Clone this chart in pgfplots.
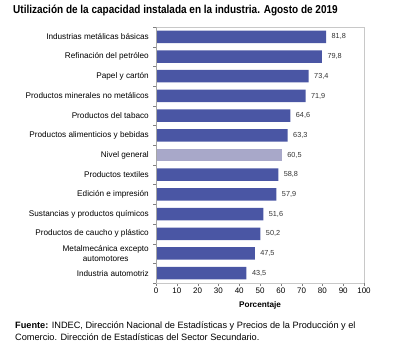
\documentclass[border=0pt]{standalone}
\usepackage{pgfplots}
\pgfplotsset{compat=1.18}
\usepackage{fontspec}
\setmainfont{Liberation Sans}
\newfontfamily\titlefont[FakeStretch=0.87]{Liberation Sans}
\definecolor{barblue}{HTML}{4A56A4}
\definecolor{barlight}{HTML}{A8A8C9}
\definecolor{framegray}{HTML}{C8C8C8}
\begin{document}
\begin{tikzpicture}
\path[use as bounding box] (0,0) rectangle (395pt,353pt);
\node[anchor=west,font=\titlefont\bfseries\fontsize{11.5}{13}\selectfont,inner sep=0pt] at (13pt,342pt) {Utilización de la capacidad instalada en la industria. Agosto de 2019};
\begin{axis}[
  at={(156pt,70pt)}, anchor=south west,
  scale only axis, width=208pt, height=256pt,
  xbar, bar width=12.5pt,
  xmin=0, xmax=100, ymin=-0.5, ymax=12.5,
  xtick={0,10,...,100},
  ytick={0,...,12},
  yticklabels={Industria automotriz,{Metalmecánica excepto\\automotores},Productos de caucho y plástico,Sustancias y productos químicos,Edición e impresión,Productos textiles,Nivel general,Productos alimenticios y bebidas,Productos del tabaco,Productos minerales no metálicos,Papel y cartón,Refinación del petróleo,Industrias metálicas básicas},
  minor ytick={-0.5,0.5,...,12.5},
  major tick length=3pt,
  minor tick length=3pt,
  major y tick style={draw=none},
  major x tick style={draw=gray},
  minor tick style={draw=gray},
  tick align=outside,
  xtick pos=bottom, ytick pos=left,
  axis line style={draw=framegray},
  axis x line*=bottom,
  axis y line*=left,
  yticklabel style={font=\fontsize{8.2}{9.5}\selectfont, align=center, inner sep=1pt, xshift=-3pt},
  xticklabel style={font=\fontsize{8}{9}\selectfont, inner sep=1pt, yshift=-1pt},
  /pgf/number format/assume math mode=true,
  xlabel={\textbf{Porcentaje}},
  xlabel style={font=\fontsize{8.2}{9}\selectfont, yshift=-3pt},
  nodes near coords,
  nodes near coords style={font=\fontsize{7.3}{8}\selectfont, anchor=west, xshift=2pt, text=black!80,
    /pgf/number format/.cd, use comma, fixed, fixed zerofill, precision=1, assume math mode=true},
  clip=false,
]
\addplot[fill=barblue, draw=none, bar shift=0pt] coordinates {
(43.5,0) (47.5,1) (50.2,2) (51.6,3) (57.9,4) (58.8,5) (63.3,7) (64.6,8) (71.9,9) (73.4,10) (79.8,11) (81.8,12)};
\addplot[fill=barlight, draw=none, bar shift=0pt] coordinates {(60.5,6)};
\end{axis}
\draw[framegray] (156pt,326pt) -- (364pt,326pt) -- (364pt,70pt);
\draw[gray!70] (156pt,70pt) -- (156pt,326pt);
\node[anchor=north west, align=left, font=\fontsize{9.2}{12}\selectfont, inner sep=0pt] at (15pt,31pt) {\textbf{Fuente:} INDEC, Dirección Nacional de Estadísticas y Precios de la Producción y el\\Comercio. Dirección de Estadísticas del Sector Secundario.};
\end{tikzpicture}
\end{document}
